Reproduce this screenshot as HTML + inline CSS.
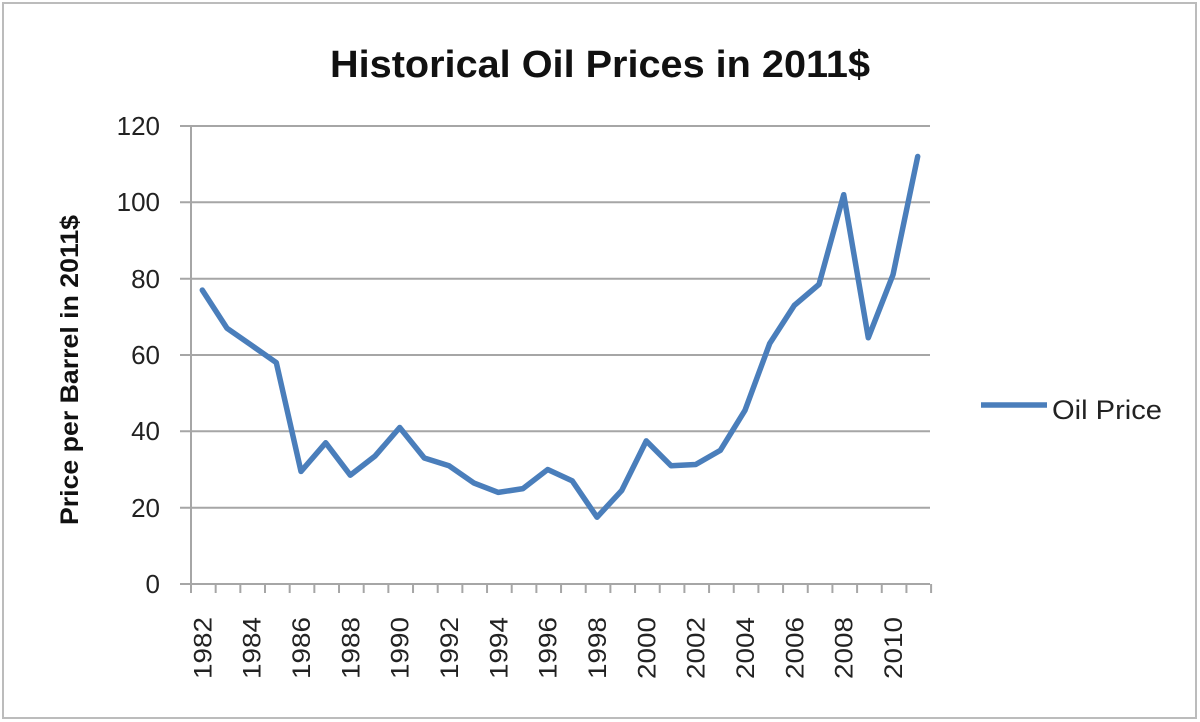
<!DOCTYPE html>
<html><head><meta charset="utf-8"><style>
html,body{margin:0;padding:0;background:#fff;}
svg{display:block;font-family:"Liberation Sans",sans-serif;}
</style></head><body>
<svg width="1200" height="722" viewBox="0 0 1200 722" xmlns="http://www.w3.org/2000/svg">
<rect x="3" y="3" width="1193" height="715" fill="#fff" stroke="#bcbcbc" stroke-width="2"/>
<text x="600" y="77" text-anchor="middle" font-size="38" font-weight="bold" fill="#111" textLength="540" lengthAdjust="spacingAndGlyphs">Historical Oil Prices in 2011$</text>
<g stroke="#a6a6a6" stroke-width="2">
<line x1="180" y1="126" x2="930" y2="126"/>
<line x1="180" y1="202.3" x2="930" y2="202.3"/>
<line x1="180" y1="278.7" x2="930" y2="278.7"/>
<line x1="180" y1="355" x2="930" y2="355"/>
<line x1="180" y1="431.3" x2="930" y2="431.3"/>
<line x1="180" y1="507.7" x2="930" y2="507.7"/>
<line x1="180" y1="584" x2="930" y2="584"/>
<line x1="191" y1="126" x2="191" y2="584"/>
</g>
<g stroke="#a6a6a6" stroke-width="2" id="ticks"></g>
<g font-size="26" fill="#222" text-anchor="end">
<text x="160" y="135">120</text><text x="160" y="211">100</text><text x="160" y="288">80</text>
<text x="160" y="364">60</text><text x="160" y="440">40</text><text x="160" y="517">20</text><text x="160" y="593">0</text>
</g>
<text transform="translate(78,370) rotate(-90)" text-anchor="middle" font-size="25" font-weight="bold" fill="#111" textLength="310" lengthAdjust="spacingAndGlyphs">Price per Barrel in 2011$</text>
<g font-size="25" fill="#222" text-anchor="end" id="xl"></g>
<polyline fill="none" stroke="#4a7ebb" stroke-width="5.5" stroke-linejoin="round" stroke-linecap="round" points="202.3,290.1 227,328.3 251.7,345.4 276.3,362.6 301,471.4 325.7,442.8 350.3,475.2 375,456.1 399.7,427.5 424.3,458 449,465.7 473.7,482.9 498.3,492.4 523,488.6 547.7,469.5 572.3,480.9 597,517.2 621.7,490.5 646.3,440.9 671,465.7 695.7,464.5 720.3,450.4 745,410.3 769.7,343.5 794.3,305.4 819,284.4 843.7,194.7 868.3,337.8 893,274.8 917.7,156.5"/>
<line x1="981" y1="405" x2="1047" y2="405" stroke="#4a7ebb" stroke-width="5.5"/>
<text x="1052" y="419" font-size="27" fill="#222" textLength="110" lengthAdjust="spacingAndGlyphs">Oil Price</text>
<script>
var t=document.getElementById('ticks'),xl=document.getElementById('xl'),ns='http://www.w3.org/2000/svg';
for(var i=0;i<=30;i++){var x=191+24.67*i;var l=document.createElementNS(ns,'line');l.setAttribute('x1',x);l.setAttribute('x2',x);l.setAttribute('y1',584);l.setAttribute('y2',593);t.appendChild(l);}
for(var i=0;i<30;i+=2){var x=202.3+24.67*i+9;var s=document.createElementNS(ns,'text');s.setAttribute('transform','translate('+x+',617) rotate(-90)');s.setAttribute('textLength','62');s.setAttribute('lengthAdjust','spacingAndGlyphs');s.textContent=1982+i;xl.appendChild(s);}
</script>
</svg>
</body></html>
